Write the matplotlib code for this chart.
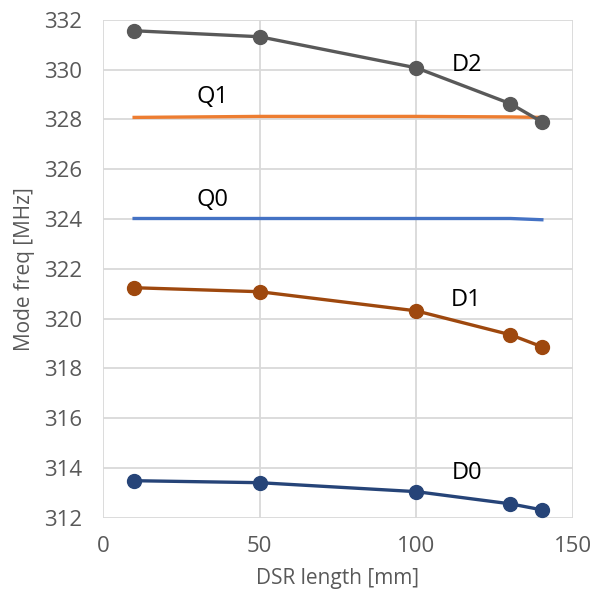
import matplotlib.pyplot as plt

# DSR length [mm] and mode frequencies [MHz]
dsr_len = [10, 50, 100, 130, 140]
d2 = [331.56, 331.32, 330.07, 328.63, 327.90]
q1 = [328.08, 328.12, 328.12, 328.10, 328.08]
q0 = [324.02, 324.02, 324.02, 324.02, 323.97]
d1 = [321.24, 321.08, 320.31, 319.35, 318.87]
d0 = [313.49, 313.41, 313.05, 312.56, 312.32]

plt.rcParams['font.family'] = ['Open Sans', 'DejaVu Sans']

fig = plt.figure(figsize=(5.94, 6.0), dpi=100)
ax = fig.add_axes([0.173, 0.137, 0.792, 0.83])

ax.plot(dsr_len, q0, color='#4472C4', lw=2.4)
ax.plot(dsr_len, q1, color='#ED7D31', lw=2.4)
ax.plot(dsr_len, d2, color='#595959', lw=2.4, marker='o', ms=10)
ax.plot(dsr_len, d1, color='#9E480E', lw=2.4, marker='o', ms=10)
ax.plot(dsr_len, d0, color='#264478', lw=2.4, marker='o', ms=10)

lbl = dict(fontsize=17, color='black', ha='center', va='center')
ax.text(35, 328.9, 'Q1', **lbl)
ax.text(35, 324.75, 'Q0', **lbl)
ax.text(116, 330.2, 'D2', **lbl)
ax.text(116, 320.75, 'D1', **lbl)
ax.text(116, 313.8, 'D0', **lbl)

ax.set_xlim(0, 150)
ax.set_ylim(312, 332)
ax.set_xticks([0, 50, 100, 150])
ax.set_yticks(range(312, 333, 2))
ax.grid(True, color='#D9D9D9', lw=1.3)
ax.set_axisbelow(True)
for s in ax.spines.values():
    s.set_visible(False)
ax.tick_params(length=0, labelsize=16, labelcolor='#595959')
ax.tick_params(axis='y', pad=15)
ax.tick_params(axis='x', pad=13)
ax.set_xlabel('DSR length [mm]', fontsize=15, color='#595959', labelpad=8)
ax.set_ylabel('Mode freq [MHz]', fontsize=15, color='#595959', labelpad=6)

fig.savefig('out.png', dpi=100)
